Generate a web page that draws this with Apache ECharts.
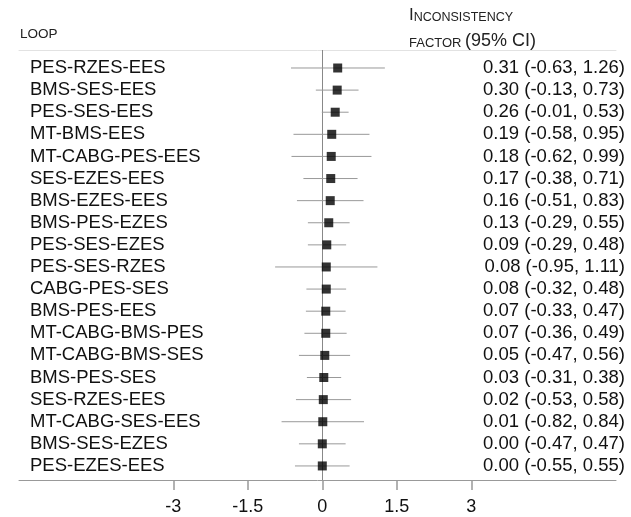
<!DOCTYPE html>
<html>
<head>
<meta charset="utf-8">
<script src="https://cdn.jsdelivr.net/npm/echarts@6/dist/echarts.min.js"></script>
<style>html,body{margin:0;padding:0;background:#fff;}#c{width:631px;height:517px;}</style>
</head>
<body>
<div id="c"></div>
<script>
const loops = ['PES-RZES-EES','BMS-SES-EES','PES-SES-EES','MT-BMS-EES','MT-CABG-PES-EES','SES-EZES-EES','BMS-EZES-EES','BMS-PES-EZES','PES-SES-EZES','PES-SES-RZES','CABG-PES-SES','BMS-PES-EES','MT-CABG-BMS-PES','MT-CABG-BMS-SES','BMS-PES-SES','SES-RZES-EES','MT-CABG-SES-EES','BMS-SES-EZES','PES-EZES-EES'];
const estimates = [0.31,0.30,0.26,0.19,0.18,0.17,0.16,0.13,0.09,0.08,0.08,0.07,0.07,0.05,0.03,0.02,0.01,0.00,0.00];
const lower = [-0.63,-0.13,-0.01,-0.58,-0.62,-0.38,-0.51,-0.29,-0.29,-0.95,-0.32,-0.33,-0.36,-0.47,-0.31,-0.53,-0.82,-0.47,-0.55];
const upper = [1.26,0.73,0.53,0.95,0.99,0.71,0.83,0.55,0.48,1.11,0.48,0.47,0.49,0.56,0.38,0.58,0.84,0.47,0.55];
const xTicks = [-3,-1.5,0,1.5,3];
const xTickLabels = ['-3','-1.5','0','1.5','3'];

const rows = loops.map((_, i) => i);
const ciText = rows.map(i => estimates[i].toFixed(2) + ' (' + lower[i].toFixed(2) + ', ' + upper[i].toFixed(2) + ')');
const FONT = '"Liberation Sans", Arial, sans-serif';
const Y_MIN = -0.814, Y_MAX = 18.636;

const chart = echarts.init(document.getElementById('c'), null, {renderer: 'canvas'});
chart.setOption({
  animation: false,
  backgroundColor: '#fff',
  textStyle: {fontFamily: FONT},
  grid: {left: 19, right: 15, top: 50, bottom: 37},
  xAxis: [{
    type: 'value', position: 'bottom', min: -6.106, max: 5.913,
    axisLine: {show: true, onZero: false, lineStyle: {color: '#999', width: 1}},
    axisTick: {show: true, customValues: xTicks, length: 10, inside: false, lineStyle: {color: '#999', width: 1.5}},
    axisLabel: {customValues: xTicks, formatter: v => xTickLabels[xTicks.indexOf(v)], fontSize: 18, color: '#111', margin: 18, fontFamily: FONT},
    splitLine: {show: false}
  }, {
    type: 'value', position: 'top', min: -6.106, max: 5.913,
    axisLine: {show: true, onZero: false, lineStyle: {color: '#e2e2e2', width: 1}},
    axisTick: {show: false}, axisLabel: {show: false}, splitLine: {show: false}
  }],
  yAxis: [{
    type: 'value', position: 'left', inverse: true, min: Y_MIN, max: Y_MAX,
    axisLine: {show: false, onZero: false}, axisTick: {show: false}, splitLine: {show: false},
    axisLabel: {customValues: rows, formatter: v => loops[Math.round(v)], align: 'left', margin: -11, fontSize: 18.5, color: '#111', fontFamily: FONT}
  }, {
    type: 'value', position: 'right', inverse: true, min: Y_MIN, max: Y_MAX,
    axisLine: {show: false, onZero: false}, axisTick: {show: false}, splitLine: {show: false},
    axisLabel: {customValues: rows, formatter: v => ciText[Math.round(v)], align: 'right', margin: 9, fontSize: 18.5, color: '#111', fontFamily: FONT}
  }],
  graphic: [
    {type: 'text', left: 20, top: 27, style: {text: 'LOOP', font: '13.5px ' + FONT, fill: '#222'}},
    {type: 'text', x: 409, y: 7, style: {text: '{a|I}{b|NCONSISTENCY}', rich: {a: {fontSize: 17, fontFamily: FONT, fill: '#222', verticalAlign: 'bottom'}, b: {fontSize: 12.5, fontFamily: FONT, fill: '#222', verticalAlign: 'bottom'}}}},
    {type: 'text', x: 409, y: 32, style: {text: '{b|FACTOR }{a|(95% CI)}', rich: {a: {fontSize: 18, fontFamily: FONT, fill: '#222', verticalAlign: 'bottom'}, b: {fontSize: 13, fontFamily: FONT, fill: '#222', verticalAlign: 'bottom'}}}}
  ],
  series: [{
    type: 'custom', xAxisIndex: 0, yAxisIndex: 0, z: 2,
    data: rows.map(i => [lower[i], upper[i], i]),
    encode: {x: [0, 1], y: 2},
    renderItem: function (params, api) {
      const s = api.coord([api.value(0), api.value(2)]);
      const e = api.coord([api.value(1), api.value(2)]);
      return {type: 'line', shape: {x1: s[0], y1: s[1], x2: e[0], y2: e[1]}, style: {stroke: '#999', lineWidth: 1}};
    }
  }, {
    type: 'scatter', xAxisIndex: 0, yAxisIndex: 0, z: 3,
    symbol: 'rect', symbolSize: 9, itemStyle: {color: '#000'},
    data: rows.map(i => [estimates[i], i]),
    markLine: {silent: true, symbol: 'none', label: {show: false}, lineStyle: {color: '#888', width: 1, type: 'solid'}, data: [{xAxis: 0}], z: 1}
  }]
});
</script>
</body>
</html>
